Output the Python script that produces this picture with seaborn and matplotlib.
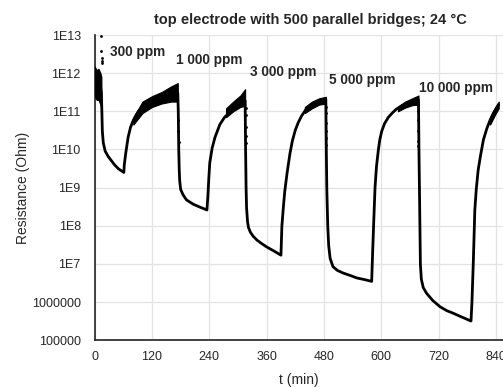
import numpy as np
import pandas as pd
import matplotlib
matplotlib.use("Agg")
import matplotlib.pyplot as plt
import seaborn as sns
from matplotlib.ticker import FixedLocator, LogLocator, NullFormatter

# ---------------- data ----------------
t_min = [0, 4, 8, 12, 14, 15, 16, 18, 22, 28.5, 42, 50, 61,
         62, 65, 70, 75, 81, 91, 100, 112, 125, 140, 155, 168, 174,
         175, 176, 177, 178, 180, 185, 192, 206, 220, 235,
         237, 239, 241, 246, 252, 262, 272, 283, 297, 311, 315,
         316, 317, 318, 320, 322, 326, 332, 340, 350, 360, 375, 390,
         392, 395, 398, 403, 409, 414, 420, 426, 433, 442, 451, 462, 472, 484,
         485, 486, 488, 490, 493, 499, 508, 520, 535, 549, 565, 580,
         582, 584, 587, 590, 594, 597, 601, 607, 615, 623, 632, 642, 653, 665, 678,
         679, 680, 681, 682, 684, 688, 695, 708, 723, 737, 751, 770, 788,
         790, 793, 796, 799, 803, 808, 814, 821, 828, 835, 842, 846]
resistance = [7e11, 6e11, 5e11, 4.5e11, 3e11, 1e11, 3e10, 1.5e10, 9e9, 6.5e9, 3.9e9, 3.1e9, 2.5e9,
              4e9, 8e9, 2.1e10, 3.8e10, 5.9e10, 9.8e10, 1.3e11, 1.6e11, 1.9e11, 2.2e11, 2.5e11, 2.8e11, 3e11,
              1e11, 1e10, 3e9, 1.5e9, 9e8, 6.5e8, 4.8e8, 3.7e8, 3.1e8, 2.6e8,
              6e8, 1.8e9, 4.5e9, 1.1e10, 2.1e10, 4.5e10, 7e10, 9.5e10, 1.3e11, 1.7e11, 1.9e11,
              1e10, 1e9, 3e8, 1.3e8, 9e7, 6.8e7, 5.3e7, 4.2e7, 3.4e7, 2.8e7, 2.2e7, 1.7e7,
              1e8, 3e8, 8e8, 2.5e9, 8e9, 1.7e10, 3.2e10, 5e10, 7.5e10, 1.1e11, 1.4e11, 1.7e11, 1.9e11, 2.1e11,
              1e10, 1e9, 1e8, 3e7, 1.4e7, 8.5e6, 6.8e6, 5.8e6, 5e6, 4.3e6, 3.9e6, 3.5e6,
              2e7, 1e8, 1e9, 3.5e9, 9.8e9, 1.8e10, 3e10, 4.8e10, 7e10, 9e10, 1.15e11, 1.35e11, 1.55e11, 1.8e11, 2e11,
              1e10, 1e9, 1e8, 1e7, 4e6, 2.4e6, 1.7e6, 1.1e6, 7.6e5, 6e5, 5.1e5, 4e5, 3.2e5,
              1e6, 1.3e7, 2.6e8, 9e8, 2.9e9, 7e9, 1.8e10, 3.5e10, 5.9e10, 9e10, 1.25e11, 1.5e11]

# noisy bands (lower / upper envelope of the scattered points)
band_t = [[0, 4, 8, 12, 14],
          [81, 100, 120, 140, 160, 174],
          [275, 290, 305, 315],
          [440, 455, 470, 484],
          [635, 650, 665, 678],
          [828, 838, 846]]
band_lo = [[2.5e11, 2e11, 2e11, 1.5e11, 1.2e11],
           [4.5e10, 9e10, 1.3e11, 1.6e11, 1.8e11, 1.8e11],
           [7e10, 1e11, 1.3e11, 1.4e11],
           [9e10, 1.2e11, 1.5e11, 1.6e11],
           [1e11, 1.25e11, 1.45e11, 1.5e11],
           [4.5e10, 8e10, 1.2e11]]
band_hi = [[1.5e12, 1.2e12, 1.3e12, 1e12, 8e11],
           [7e10, 1.8e11, 2.5e11, 3.2e11, 4.5e11, 5.5e11],
           [1.2e11, 1.8e11, 2.6e11, 3.8e11],
           [1.3e11, 1.8e11, 2.2e11, 2.4e11],
           [1.35e11, 1.8e11, 2.2e11, 2.6e11],
           [7e10, 1.25e11, 1.8e11]]

# isolated points (fast transitions, outliers)
dot_t = [14, 14, 15, 16, 16,
         175, 175, 176,
         316, 316, 316, 316, 316,
         485, 485, 485, 485, 485, 485,
         678, 678, 678, 678, 678, 678]
dot_r = [9.5e12, 3.7e12, 2.5e12, 2.1e12, 1.8e12,
         6e10, 3e10, 1.6e10,
         1.2e11, 8e10, 4e10, 2.3e10, 1.5e10,
         1.3e11, 9e10, 5e10, 3e10, 2e10, 1.3e10,
         1.5e11, 1e11, 6e10, 3e10, 1.7e10, 1.2e10]

labels = ["300 ppm", "1 000 ppm", "3 000 ppm", "5 000 ppm", "10 000 ppm"]
label_t = [32, 170, 325, 490, 679]
label_r = [3.5e12, 2.2e12, 1.07e12, 6.6e11, 4.1e11]

ytick_vals = [1e5, 1e6, 1e7, 1e8, 1e9, 1e10, 1e11, 1e12, 1e13]
ytick_labels = ["100000", "1000000", "1E7", "1E8", "1E9", "1E10", "1E11", "1E12", "1E13"]
xtick_vals = [0, 120, 240, 360, 480, 600, 720, 840]

title = "top electrode with 500 parallel bridges; 24 \u00b0C"

# ---------------- plot ----------------
sns.set_style("white")
plt.rcParams['font.family'] = ['Liberation Sans', 'DejaVu Sans']

fig = plt.figure(figsize=(5.03, 3.87), dpi=100)
ax = fig.add_axes([94.7 / 503, 1 - 340.3 / 387, 1 - 94.7 / 503, (340.3 - 35) / 387])

df = pd.DataFrame({"t": t_min, "R": resistance})
for bt, lo, hi in zip(band_t, band_lo, band_hi):
    ax.fill_between(bt, lo, hi, color="black", lw=0.8, zorder=3)
sns.lineplot(data=df, x="t", y="R", sort=False, estimator=None, color="black",
             lw=2.0, ax=ax, zorder=4)
sns.scatterplot(x=dot_t, y=dot_r, color="black", s=4, linewidth=0, ax=ax, zorder=4)

ax.set_yscale("log")
ax.set_ylim(1e5, 1e13)
ax.set_xlim(0, 855)

ax.yaxis.set_major_locator(FixedLocator(ytick_vals))
ax.set_yticklabels(ytick_labels)
ax.yaxis.set_minor_locator(LogLocator(base=10, subs=np.arange(2, 10), numticks=20))
ax.yaxis.set_minor_formatter(NullFormatter())
ax.set_xticks(xtick_vals)
ax.set_xticks([60, 180, 300, 420, 540, 660, 780], minor=True)

ax.grid(True, which="major", color="#e3e3e3", lw=0.9)
ax.set_axisbelow(True)
for s in ["top", "right"]:
    ax.spines[s].set_visible(False)
for s in ["left", "bottom"]:
    ax.spines[s].set_color("#222222")
    ax.spines[s].set_linewidth(1.2)

ax.tick_params(axis="y", which="major", direction="out", length=4, width=1.1,
               labelsize=9, color="#222222", pad=6)
ax.tick_params(axis="x", which="major", direction="out", length=4, width=1.1,
               labelsize=9, color="#222222", pad=4)
ax.tick_params(axis="y", which="minor", direction="inout", length=3, width=0.8, color="#222222")
ax.tick_params(axis="x", which="minor", direction="out", length=3, width=1.0, color="#222222")

ax.set_xlabel("t (min)", fontsize=10, labelpad=7)
ax.set_ylabel("Resistance (Ohm)", fontsize=10, labelpad=1)

for lab, lt, lr in zip(labels, label_t, label_r):
    ax.text(lt, lr, lab, fontsize=9.8, fontweight="bold", ha="left", va="center", zorder=5)

fig.text(310 / 503, 1 - 20 / 387, title, fontsize=10.5, fontweight="bold", ha="center", va="center")

fig.savefig("out.png", dpi=100)
